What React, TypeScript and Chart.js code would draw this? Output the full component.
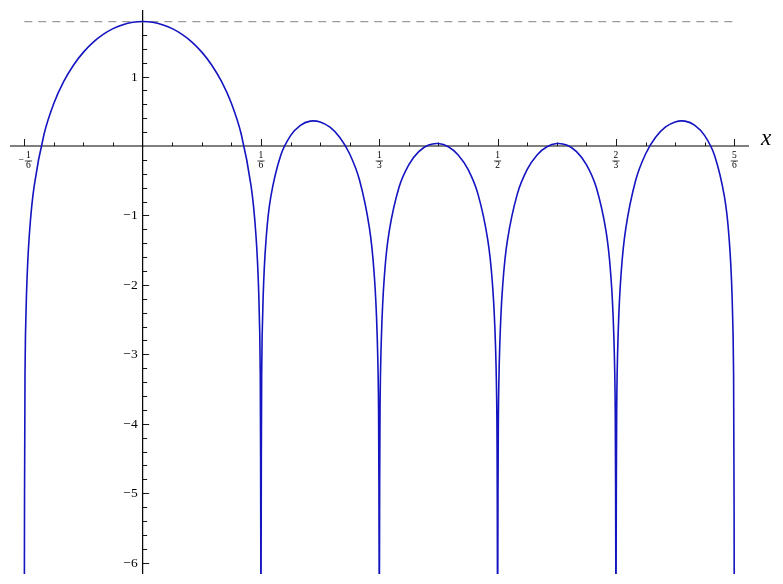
import { useEffect, useRef } from "react";
import { Chart, registerables } from "chart.js";

Chart.register(...registerables);

// Curve samples (x, y)
const curveX = [
  -0.166667, -0.165667, -0.163667, -0.159722, -0.152778, -0.138889, -0.125, -0.111111,
  -0.097222, -0.083333, -0.069444, -0.055556, -0.041667, -0.027778, -0.013889, 0,
  0.013889, 0.027778, 0.041667, 0.055556, 0.069444, 0.083333, 0.097222, 0.111111,
  0.125, 0.138889, 0.152778, 0.159722, 0.163667, 0.165667, 0.166667,
  0.167667, 0.169667, 0.173611, 0.180556, 0.194444, 0.208333, 0.222222, 0.236111,
  0.25, 0.263889, 0.277778, 0.291667, 0.305556, 0.319444, 0.326389, 0.330333,
  0.332333, 0.333333,
  0.334333, 0.336333, 0.340278, 0.347222, 0.361111, 0.375, 0.388889, 0.402778,
  0.416667, 0.430556, 0.444444, 0.458333, 0.472222, 0.486111, 0.493056, 0.497,
  0.499, 0.5,
  0.501, 0.503, 0.506944, 0.513889, 0.527778, 0.541667, 0.555556, 0.569444,
  0.583333, 0.597222, 0.611111, 0.625, 0.638889, 0.652778, 0.659722, 0.663667,
  0.665667, 0.666667,
  0.667667, 0.669667, 0.673611, 0.680556, 0.694444, 0.708333, 0.722222, 0.736111,
  0.75, 0.763889, 0.777778, 0.791667, 0.805556, 0.819444, 0.826389, 0.830333,
  0.832333, 0.833333,
];
const curveY = [
  -7, -3.27271, -2.16353, -1.30428, -0.57887, 0.16817, 0.614, 0.92904,
  1.16695, 1.35163, 1.49579, 1.60691, 1.68962, 1.74691, 1.78062, 1.79176,
  1.78062, 1.74691, 1.68962, 1.60691, 1.49579, 1.35163, 1.16695, 0.92904,
  0.614, 0.16817, -0.57887, -1.30428, -2.16353, -3.27271, -7,
  -3.2836, -2.19618, -1.3799, -0.73044, -0.13729, 0.14976, 0.2981, 0.3575,
  0.34657, 0.27012, 0.12268, -0.11508, -0.49366, -1.18131, -1.87943, -2.72384,
  -3.82566, -7,
  -3.82929, -2.73472, -1.90463, -1.23173, -0.59477, -0.2674, -0.08164, 0.01272,
  0.03467, -0.01068, -0.12853, -0.33798, -0.68934, -1.35068, -2.03595, -2.87314,
  -3.97132, -7,
  -3.97132, -2.87314, -2.03595, -1.35068, -0.68934, -0.33798, -0.12853, -0.01068,
  0.03467, 0.01272, -0.08164, -0.2674, -0.59477, -1.23173, -1.90463, -2.73472,
  -3.82929, -7,
  -3.82566, -2.72384, -1.87943, -1.18131, -0.49366, -0.11508, 0.12268, 0.27012,
  0.34657, 0.3575, 0.2981, 0.14976, -0.13729, -0.73044, -1.3799, -2.19618,
  -3.2836, -7,
];

// Dashed reference level
const dashedX = [-1 / 6, 5 / 6];
const dashedLevel = 1.79176;

// Axis ranges
const xMin = -0.18681;
const xMax = 0.85404;
const yMin = -6.163;
const yMax = 1.958;

// Ticks
const yMajorTicks = [-6, -5, -4, -3, -2, -1, 1];
const yTickLabels = ["−6", "−5", "−4", "−3", "−2", "−1", "1"];
const yMinorStep = 0.2;
const xMajorTicks = [-1 / 6, 1 / 6, 1 / 3, 1 / 2, 2 / 3, 5 / 6];
const xTickSigns = ["−", "", "", "", "", ""];
const xTickNumerators = ["1", "1", "1", "1", "2", "5"];
const xTickDenominators = ["6", "6", "3", "2", "3", "6"];
const xMinorStep = 1 / 24;
const xAxisTitle = "x";

const axesPlugin = {
  id: "mathAxes",
  beforeDatasetsDraw(chart: any) {
    const { ctx, chartArea, scales } = chart;
    const xs = scales.x;
    const ys = scales.y;
    const x0 = xs.getPixelForValue(0);
    const y0 = ys.getPixelForValue(0);
    ctx.save();
    ctx.strokeStyle = "#000";
    ctx.lineWidth = 1.2;
    ctx.beginPath();
    ctx.moveTo(chartArea.left, y0);
    ctx.lineTo(chartArea.right, y0);
    ctx.moveTo(x0, chartArea.top);
    ctx.lineTo(x0, chartArea.bottom);
    ctx.stroke();

    // y ticks
    ctx.lineWidth = 0.9;
    ctx.beginPath();
    for (let k = Math.ceil(yMin / yMinorStep); k * yMinorStep <= yMax; k++) {
      const v = k * yMinorStep;
      if (Math.abs(v) < 1e-9) continue;
      const isMajor = Math.abs(v - Math.round(v)) < 1e-9;
      const py = Math.round(ys.getPixelForValue(v)) + 0.5;
      ctx.moveTo(x0, py);
      ctx.lineTo(x0 + (isMajor ? 6.5 : 4.5), py);
    }
    // x ticks
    for (let k = Math.ceil(xMin / xMinorStep); k * xMinorStep <= xMax; k++) {
      const v = k * xMinorStep;
      if (k === 0) continue;
      const isMajor = k % 4 === 0;
      const px = Math.round(xs.getPixelForValue(v)) + 0.5;
      ctx.moveTo(px, y0);
      ctx.lineTo(px, y0 - (isMajor ? 7 : 3.5));
    }
    ctx.stroke();

    // y labels
    ctx.fillStyle = "#000";
    ctx.font = "13.5px 'Liberation Serif', serif";
    ctx.textAlign = "right";
    ctx.textBaseline = "middle";
    yMajorTicks.forEach((v, i) => {
      ctx.fillText(yTickLabels[i], x0 - 5, ys.getPixelForValue(v) + 0.5);
    });

    // x fraction labels
    ctx.font = "9.5px 'Liberation Serif', serif";
    ctx.textBaseline = "alphabetic";
    xMajorTicks.forEach((v, i) => {
      const px = xs.getPixelForValue(v);
      const sign = xTickSigns[i];
      const nw = ctx.measureText(xTickNumerators[i]).width;
      const dw = ctx.measureText(xTickDenominators[i]).width;
      const barW = Math.max(nw, dw) + 2.5;
      const sw = sign ? ctx.measureText(sign).width + 1 : 0;
      const total = sw + barW;
      const left = px - total / 2 + (sign ? 1 : 0);
      const cx = left + sw + barW / 2;
      const barY = y0 + 15;
      if (sign) {
        ctx.textAlign = "left";
        ctx.textBaseline = "middle";
        ctx.fillText(sign, left, barY);
        ctx.textBaseline = "alphabetic";
      }
      ctx.textAlign = "center";
      ctx.fillText(xTickNumerators[i], cx, y0 + 12.5);
      ctx.fillText(xTickDenominators[i], cx, y0 + 22.5);
      ctx.lineWidth = 0.7;
      ctx.beginPath();
      ctx.moveTo(cx - barW / 2, barY);
      ctx.lineTo(cx + barW / 2, barY);
      ctx.stroke();
    });

    // axis title
    ctx.font = "italic 23px 'Liberation Serif', serif";
    ctx.textAlign = "left";
    ctx.textBaseline = "alphabetic";
    ctx.fillText(xAxisTitle, chartArea.right + 12, y0 - 0.5);
    ctx.restore();
  },
};

export default function App() {
  const canvasRef = useRef<HTMLCanvasElement | null>(null);

  useEffect(() => {
    const canvas = canvasRef.current;
    if (!canvas) return;
    const curve = curveX.map((x, i) => ({ x, y: curveY[i] }));
    const dashed = dashedX.map((x) => ({ x, y: dashedLevel }));
    const chart = new Chart(canvas, {
      type: "line",
      data: {
        datasets: [
          {
            data: dashed,
            borderColor: "#9a9a9a",
            borderWidth: 1.3,
            borderDash: [8, 6],
            pointRadius: 0,
            order: 2,
          },
          {
            data: curve,
            borderColor: "#1414c0",
            borderWidth: 1.6,
            pointRadius: 0,
            tension: 0.4,
            order: 1,
          },
        ],
      },
      options: {
        responsive: false,
        animation: false,
        layout: { padding: { left: 10, right: 34, top: 10, bottom: 10 } },
        scales: {
          x: { type: "linear", min: xMin, max: xMax, display: false },
          y: { type: "linear", min: yMin, max: yMax, display: false },
        },
        plugins: {
          legend: { display: false },
          tooltip: { enabled: false },
        },
      },
      plugins: [axesPlugin],
    });
    return () => chart.destroy();
  }, []);

  return (
    <div style={{ position: "fixed", left: 0, top: 0, width: 783, height: 584, background: "#fff" }}>
      <canvas ref={canvasRef} width={783} height={584} style={{ display: "block" }} />
    </div>
  );
}
